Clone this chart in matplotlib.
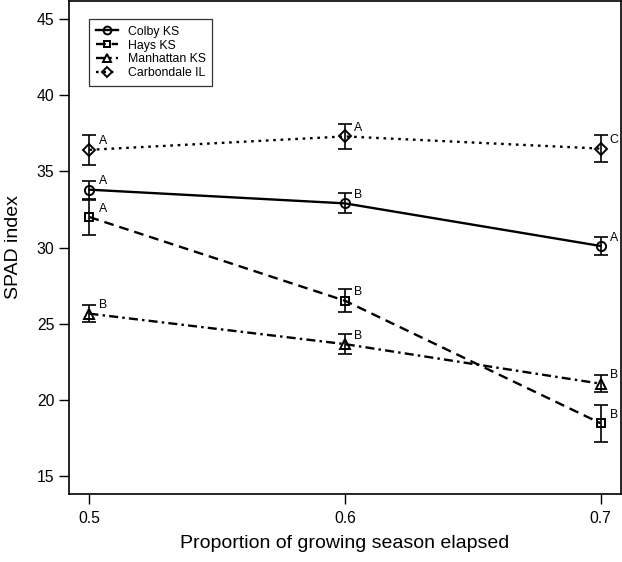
import matplotlib
matplotlib.use("Agg")
import matplotlib.pyplot as plt

plt.rcParams['font.family'] = ['Liberation Sans', 'DejaVu Sans']
plt.rcParams['lines.scale_dashes'] = False

# data
season = [0.5, 0.6, 0.7]
sites = ['Colby KS', 'Hays KS', 'Manhattan KS', 'Carbondale IL']
colby = [33.8, 32.9, 30.1]
colby_err = [0.6, 0.65, 0.6]
hays = [32.0, 26.5, 18.45]
hays_err = [1.15, 0.75, 1.2]
manhattan = [25.65, 23.65, 21.05]
manhattan_err = [0.56, 0.67, 0.56]
carbondale = [36.42, 37.3, 36.5]
carbondale_err = [0.97, 0.8, 0.9]
colby_letters = ['A', 'B', 'A']
hays_letters = ['A', 'B', 'B']
manhattan_letters = ['B', 'B', 'B']
carbondale_letters = ['A', 'A', 'C']

yticks = [15, 20, 25, 30, 35, 40, 45]
xticks = [0.5, 0.6, 0.7]

series = [
    (colby, colby_err, colby_letters, 'o', (None, None)),
    (hays, hays_err, hays_letters, 's', (7, 4.3)),
    (manhattan, manhattan_err, manhattan_letters, '^', (6.5, 3, 1.8, 3)),
    (carbondale, carbondale_err, carbondale_letters, 'D', (1.9, 3.4)),
]

fig = plt.figure(figsize=(6.22, 5.62), dpi=100)
ax = fig.add_axes([69 / 622, 68 / 562, 552 / 622, 493 / 562])

handles = []
for (vals, errs, letters, mk, dash), name in zip(series, sites):
    ms = 6.0 if mk == 'D' else 6.6
    if mk == 's':
        ms = 5.8
    line, = ax.plot(season, vals, color='black', lw=1.7, marker=mk, ms=ms,
                    mfc='none', mec='black', mew=1.4, label=name)
    if dash[0] is not None:
        line.set_dashes(dash)
    ax.errorbar(season, vals, yerr=errs, fmt='none', ecolor='black',
                elinewidth=1.2, capsize=4.7, capthick=1.2)
    for x, y, t in zip(season, vals, letters):
        ax.text(x + 0.0052, y + 0.55, t, fontsize=8.8, ha='center', va='center')
    handles.append(line)

ax.set_xlim(0.492, 0.708)
ax.set_ylim(13.8, 46.2)
ax.set_xticks(xticks)
ax.set_xticklabels([str(v) for v in xticks])
ax.set_yticks(yticks)
ax.tick_params(axis='both', direction='out', length=7, width=1.0,
               labelsize=11.3, color='black')
ax.tick_params(axis='x', pad=5)
ax.tick_params(axis='y', pad=3.5)
for s in ax.spines.values():
    s.set_linewidth(1.2)

ax.set_xlabel('Proportion of growing season elapsed', fontsize=14)
ax.xaxis.set_label_coords(0.5, -0.083)
ax.set_ylabel('SPAD index', fontsize=14)
ax.yaxis.set_label_coords(-0.085, 0.5)

leg = ax.legend(handles=handles, loc='upper left',
                bbox_to_anchor=(89 / 622, 1 - 19 / 562),
                bbox_transform=fig.transFigure, borderaxespad=0,
                fontsize=8.8, frameon=True, fancybox=False, edgecolor='black',
                borderpad=0.55, handlelength=1.8, handletextpad=0.8,
                labelspacing=0.15, markerscale=0.85)
leg.get_frame().set_linewidth(0.9)

fig.savefig('out.png', dpi=100, facecolor='white')
